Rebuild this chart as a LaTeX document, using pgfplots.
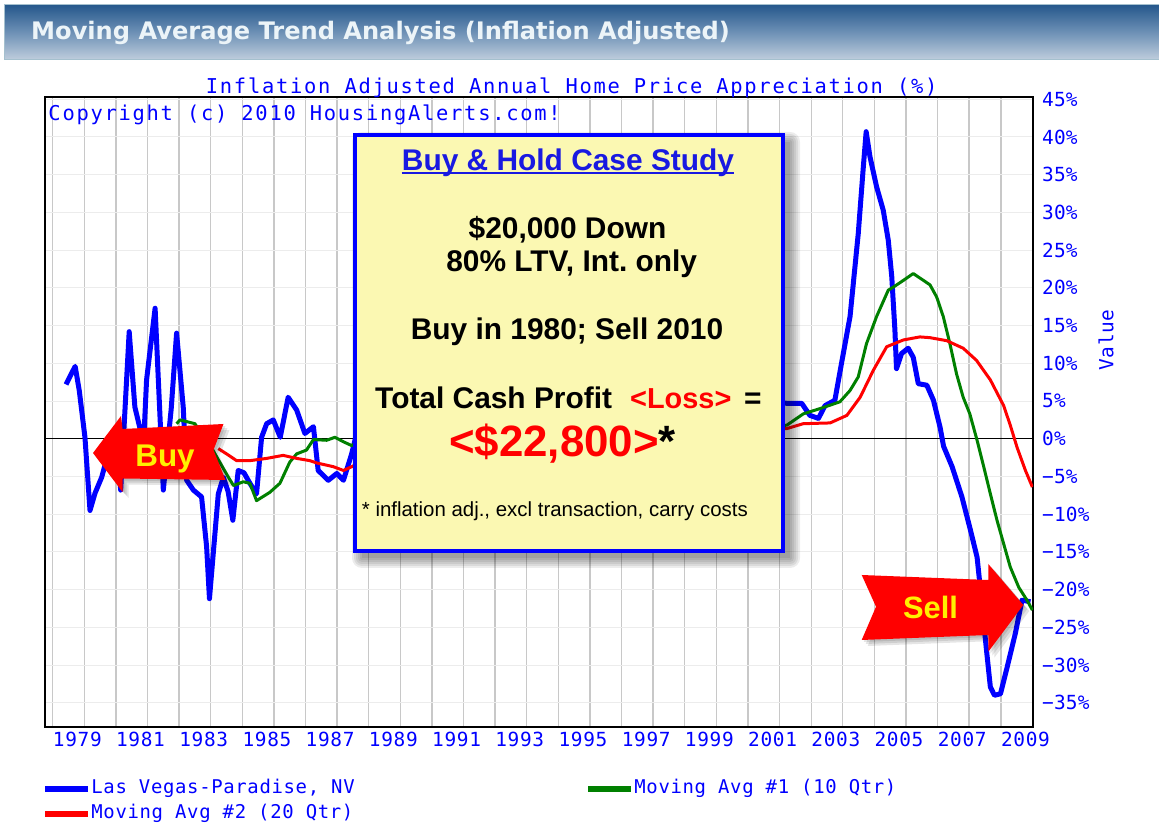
\documentclass[border=0pt]{standalone}
\usepackage{fontspec}
\setmainfont{Liberation Sans}
\newfontfamily\monoA[LetterSpace=8.5]{DejaVu Sans Mono}
\newfontfamily\monoB[LetterSpace=3.5]{DejaVu Sans Mono}
\newfontfamily\monoC[LetterSpace=1]{DejaVu Sans Mono}
\newfontfamily\hdrfont{DejaVu Sans}
\usepackage{pgfplots}
\pgfplotsset{compat=1.18}
\definecolor{cblue}{RGB}{0,0,255}
\definecolor{cgreen}{RGB}{0,128,0}
\definecolor{cred}{RGB}{255,0,0}
\definecolor{boxyellow}{RGB}{251,248,178}
\definecolor{hdrtop}{RGB}{38,88,140}
\definecolor{hdrmid}{RGB}{110,145,182}
\definecolor{hdrbot}{RGB}{192,206,221}
\definecolor{hdrborder}{RGB}{165,192,206}
\definecolor{vgrid}{RGB}{200,200,200}
\definecolor{hgrid}{RGB}{236,236,236}
\definecolor{titleblue}{RGB}{25,25,225}
\definecolor{arrowyellow}{RGB}{255,240,0}
\definecolor{hdrtext}{RGB}{236,244,248}
\frenchspacing
\begin{document}
\begin{tikzpicture}
\begin{scope}[x=1bp,y=1bp]
\path[use as bounding box] (0,0) rectangle (1159,825);
% header bar
\shade[top color=hdrtop, bottom color=hdrbot, middle color=hdrmid] (4,765) rectangle (1159,820);
\draw[hdrborder, line width=1bp] (4,765) rectangle (1160,820);
\node[anchor=west, inner sep=0pt, text=hdrtext, font=\hdrfont\bfseries\fontsize{24.2}{28}\selectfont] at (31,792) {Moving Average Trend Analysis (Inflation Adjusted)};
\end{scope}

\begin{axis}[
  at={(45bp,98bp)}, anchor=south west, scale only axis,
  width=988bp, height=630bp,
  xmin=1978.756, xmax=2010.02, ymin=-38.2, ymax=45.3,
  axis line style={black, line width=1.3bp},
  xtick={1979,1981,...,2009},
  minor xtick={1980,1982,...,2008},
  xticklabels={1979,1981,1983,1985,1987,1989,1991,1993,1995,1997,1999,2001,2003,2005,2007,2009},
  ytick={-35,-30,...,45},
  yticklabels={−35\%,−30\%,−25\%,−20\%,−15\%,−10\%,−5\%,0\%,5\%,10\%,15\%,20\%,25\%,30\%,35\%,40\%,45\%},
  yticklabel pos=right,
  major tick length=0pt, minor tick length=0pt,
  xmajorgrids, xminorgrids, ymajorgrids,
  x grid style={vgrid, line width=1.4bp},
  y grid style={hgrid, line width=1bp},
  xticklabel style={anchor=north west, inner sep=0pt, yshift=-4.7bp, text=cblue, font=\monoB\fontsize{19.5}{22}\selectfont},
  yticklabel style={anchor=west, inner sep=0pt, xshift=9bp, text=cblue, font=\monoC\fontsize{19.5}{22}\selectfont},
  legend columns=2,
  legend cell align=left,
  legend style={at={(0,0)}, anchor=north west, xshift=-3bp, yshift=-52bp, draw=none, fill=none, inner sep=0pt,
    row sep=6bp, font=\monoB\fontsize{19}{22}\selectfont, text=cblue,
    nodes={inner sep=0.5bp, text depth=4bp, text height=14bp},
    /tikz/every even column/.append style={column sep=230bp}},
  legend image code/.code={\draw[#1, line width=5.7bp] (0bp,0bp) -- (43bp,0bp);},
]
\addplot[black, line width=1.2bp, forget plot] coordinates {(1978.756,0) (2010.02,0)};
\addplot[cblue, line width=5bp, line join=round] coordinates {
(1979.42,7.2)(1979.71,9.6)(1979.84,6.4)(1980.02,0.2)(1980.18,-9.5)(1980.34,-7.2)(1980.55,-5.1)(1980.75,-2.0)(1981.0,1.0)(1981.15,-6.8)(1981.42,14.2)(1981.6,4.2)(1981.76,1.4)(1981.85,-3.0)(1981.97,7.8)(1982.24,17.3)(1982.5,-6.8)(1982.75,4.0)(1982.92,14.0)(1983.13,4.2)(1983.24,-5.5)(1983.45,-6.8)(1983.71,-7.7)(1983.87,-14.3)(1983.96,-21.2)(1984.08,-15.2)(1984.24,-7.3)(1984.4,-5.1)(1984.55,-7.0)(1984.7,-10.8)(1984.87,-4.2)(1985.05,-4.5)(1985.24,-5.9)(1985.45,-7.3)(1985.61,0.2)(1985.77,2.0)(1985.98,2.5)(1986.2,0.2)(1986.45,5.5)(1986.72,3.8)(1986.98,0.7)(1987.25,1.6)(1987.4,-4.2)(1987.72,-5.5)(1987.99,-4.6)(1988.2,-5.5)(1988.46,-2.0)(1988.75,3)(1989.0,6)(1989.5,8)(1990.0,5)(1990.5,2)(1991.0,-1)(1991.5,-3)(1992.0,-2)(1992.5,-1)(1993.0,0)(1993.5,1)(1994.0,2)(1994.5,3)(1995.0,1)(1995.5,-1)(1996.0,0)(1996.5,-1)(1997.0,-2)(1997.5,-1)(1998.0,0)(1998.5,1)(1999.0,2)(1999.5,1)(2000.0,2)(2000.5,3)(2001.0,4)(2001.5,5)(2002.0,4.8)(2002.23,4.7)(2002.7,4.7)(2002.96,3.1)(2003.23,2.7)(2003.44,4.4)(2003.75,5.1)(2003.96,10.0)(2004.23,16.2)(2004.49,27.2)(2004.65,36.0)(2004.74,40.7)(2004.86,37.4)(2005.07,33.4)(2005.28,30.3)(2005.44,26.3)(2005.55,21.5)(2005.65,14.4)(2005.7,9.3)(2005.86,11.3)(2006.07,12.0)(2006.23,10.8)(2006.39,7.3)(2006.66,7.1)(2006.87,5.1)(2007.08,1.5)(2007.19,-1.0)(2007.46,-3.7)(2007.77,-7.7)(2008.04,-12.1)(2008.25,-15.7)(2008.35,-19.7)(2008.45,-24.0)(2008.56,-28.5)(2008.67,-32.9)(2008.8,-34.0)(2008.99,-33.8)(2009.2,-30.3)(2009.46,-25.8)(2009.67,-21.4)(2009.94,-21.6)
};
\addlegendentry{Las Vegas-Paradise, NV}
\addplot[cgreen, line width=3bp, line join=round] coordinates {
(1982.92,2.0)(1983.03,2.5)(1983.5,2.0)(1983.8,0.0)(1984.0,-1.0)(1984.19,-2.4)(1984.56,-5.1)(1984.72,-6.2)(1985.03,-5.7)(1985.24,-5.9)(1985.45,-8.2)(1985.87,-7.1)(1986.19,-5.9)(1986.5,-3.1)(1986.72,-2.0)(1987.03,-1.5)(1987.25,-0.1)(1987.67,-0.2)(1987.93,0.2)(1988.2,-0.4)(1988.46,-0.9)(1989,0.5)(1990,3)(1991,2)(1992,0)(1993,-1)(1994,0)(1995,1)(1996,0.5)(1997,-0.5)(1998,0)(1999,0.8)(2000,1.2)(2001,1.5)(2002.23,1.8)(2002.75,3.3)(2003.28,4.0)(2003.91,4.9)(2004.23,6.4)(2004.49,8.2)(2004.75,12.6)(2005.07,16.2)(2005.44,19.7)(2005.6,20.1)(2005.92,21.0)(2006.23,21.9)(2006.55,21.0)(2006.76,20.4)(2006.97,18.8)(2007.18,16.2)(2007.39,12.6)(2007.6,8.6)(2007.81,5.5)(2008.02,3.3)(2008.25,-0.2)(2008.46,-3.7)(2008.67,-7.3)(2008.88,-10.8)(2009.09,-13.9)(2009.3,-17.0)(2009.57,-19.7)(2009.83,-21.4)(2010.0,-22.7)
};
\addlegendentry{Moving Avg \#1 (10 Qtr)}
\addplot[cred, line width=3bp, line join=round] coordinates {
(1984.24,-1.3)(1984.5,-2.0)(1984.82,-2.9)(1985.24,-2.9)(1985.77,-2.6)(1986.29,-2.2)(1986.72,-2.6)(1987.14,-2.9)(1987.35,-3.2)(1987.88,-3.7)(1988.2,-4.2)(1988.46,-3.7)(1989,-2.5)(1990,-0.5)(1991,0.5)(1992,0.5)(1993,0)(1994,-0.5)(1995,0)(1996,0.2)(1997,0.3)(1998,0.2)(1999,0.3)(2000,0.8)(2001,1.0)(2002.23,1.35)(2002.75,2.0)(2003.6,2.1)(2004.13,3.1)(2004.55,5.5)(2004.97,9.1)(2005.39,12.2)(2005.92,13.1)(2006.44,13.5)(2006.76,13.4)(2007.29,13.0)(2007.81,12.0)(2008.23,10.4)(2008.67,7.8)(2009.09,4.4)(2009.3,1.8)(2009.52,-1.2)(2009.78,-4.2)(2010.0,-6.4)
};
\addlegendentry{Moving Avg \#2 (20 Qtr)}
\end{axis}

\begin{scope}[x=1bp,y=1bp]
% title, copyright, axis label
\node[anchor=base, inner sep=0pt, text=cblue, font=\monoA\fontsize{20.5}{24}\selectfont] at (571.7,731.7) {Inflation Adjusted Annual Home Price Appreciation (\%)};
\node[anchor=base west, inner sep=0pt, text=cblue, font=\monoA\fontsize{20.5}{24}\selectfont] at (48.3,704.3) {Copyright (c) 2010 HousingAlerts.com!};
\node[rotate=90, inner sep=0pt, text=cblue, font=\monoB\fontsize{19.5}{22}\selectfont] at (1106,485) {Value};

% case study box with shadow
\foreach \r in {0,2,...,10}{\fill[black, opacity=0.075, rounded corners=\r] (362-\r,267-\r) rectangle (790+\r,683+\r);}
\filldraw[fill=boxyellow, draw=cblue, line width=4.6bp] (355,274) rectangle (783,690);
\node[anchor=base, inner sep=0pt, text=titleblue, font=\bfseries\fontsize{30}{34}\selectfont] at (568,654.3) {Buy \& Hold Case Study};
\draw[titleblue, line width=2bp] (401.7,651.5) -- (734.3,651.5);
\node[anchor=base, inner sep=0pt, font=\bfseries\fontsize{30}{34}\selectfont] at (567.5,586.7) {\$20,000 Down};
\node[anchor=base, inner sep=0pt, font=\bfseries\fontsize{30}{34}\selectfont] at (571.7,553.3) {80\% LTV, Int. only};
\node[anchor=base, inner sep=0pt, font=\bfseries\fontsize{30}{34}\selectfont] at (567,485) {Buy in 1980; Sell 2010};
\node[anchor=base west, inner sep=0pt, font=\bfseries\fontsize{30}{34}\selectfont] at (375,416.7) {Total Cash Profit};
\node[anchor=base west, inner sep=0pt, text=cred, font=\bfseries\fontsize{29}{34}\selectfont] at (630,416.7) {<Loss>};
\node[anchor=base west, inner sep=0pt, font=\bfseries\fontsize{30}{34}\selectfont] at (744,416.7) {=};
\node[anchor=base west, inner sep=0pt, font=\bfseries\fontsize{44}{48}\selectfont] at (449,368.3) {\textcolor{cred}{<\$22,800>}*};
\node[anchor=base west, inner sep=0pt, font=\fontsize{20.5}{24}\selectfont] at (361.7,308.3) {* inflation adj., excl transaction, carry costs};

% Buy arrow
\foreach \d in {2,4,6}{\fill[black, opacity=0.1] (93+\d,372-\d) -- (121+\d,409-\d) -- (122.5+\d,396-\d) -- (223.5+\d,401-\d) -- (213.5+\d,375-\d) -- (225.5+\d,345-\d) -- (122.5+\d,346.5-\d) -- (122.5+\d,333-\d) -- cycle;}
\fill[cred] (93,372) -- (121,409) -- (122.5,396) -- (223.5,401) -- (213.5,375) -- (225.5,345) -- (122.5,346.5) -- (122.5,333) -- cycle;
\node[text=arrowyellow, inner sep=0pt, font=\bfseries\fontsize{31.5}{34}\selectfont] at (165,366) {Buy};

% Sell arrow
\foreach \d in {2,4,6}{\fill[black, opacity=0.1] (861.7+\d,250-\d) -- (988.3+\d,245-\d) -- (988.3+\d,261-\d) -- (1023.3+\d,220-\d) -- (988.3+\d,173.3-\d) -- (988.3+\d,190-\d) -- (861.7+\d,185-\d) -- (876+\d,218.3-\d) -- cycle;}
\fill[cred] (861.7,250) -- (988.3,245) -- (988.3,261) -- (1023.3,220) -- (988.3,173.3) -- (988.3,190) -- (861.7,185) -- (876,218.3) -- cycle;
\node[text=arrowyellow, inner sep=0pt, font=\bfseries\fontsize{31}{34}\selectfont] at (930.5,218) {Sell};
\end{scope}
\end{tikzpicture}
\end{document}
